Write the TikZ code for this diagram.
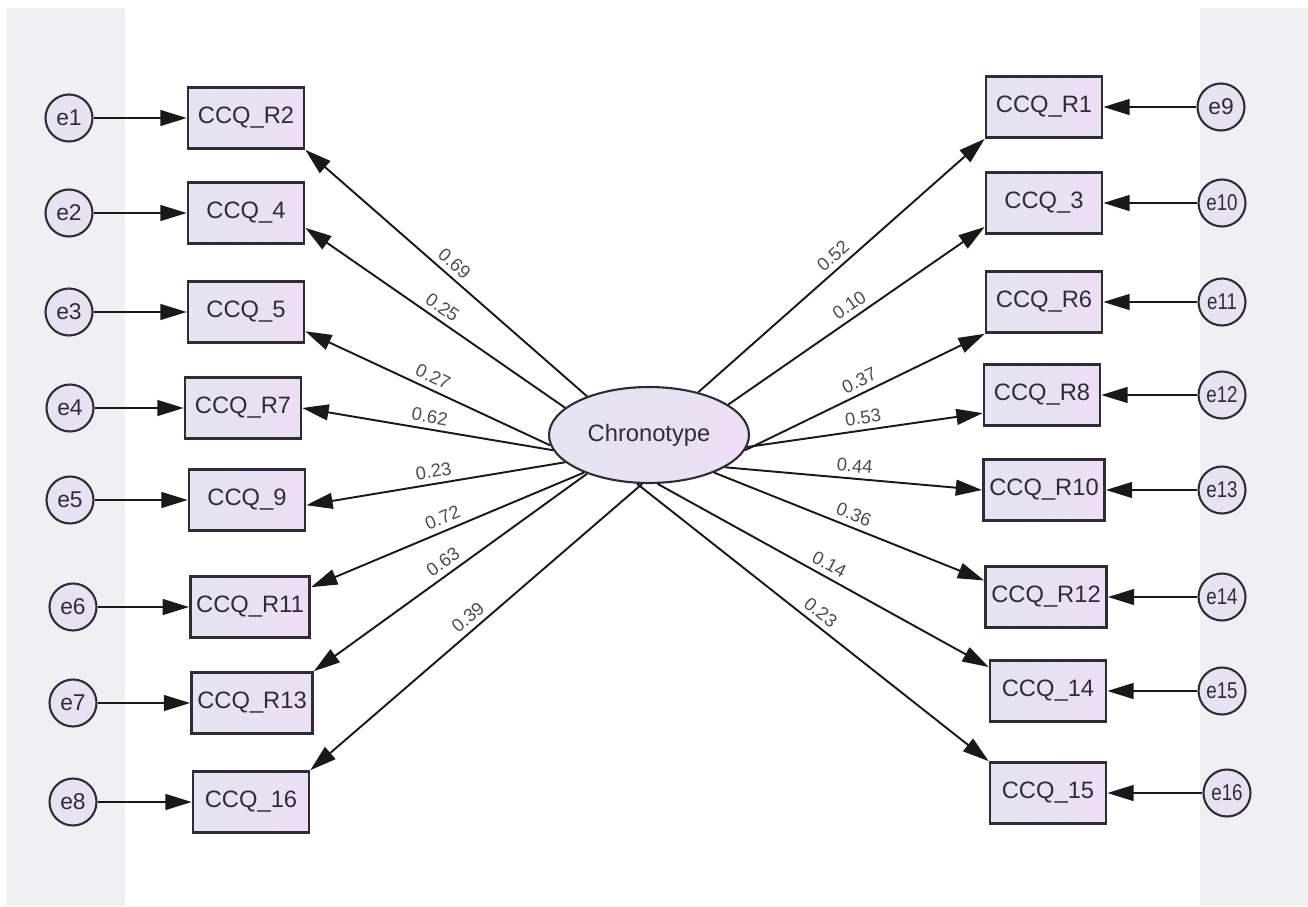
\documentclass[tikz,border=0pt]{standalone}
\usepackage{fontspec}
\setmainfont{Liberation Sans}
\usetikzlibrary{arrows.meta,shapes.geometric}
\definecolor{panel}{RGB}{240,239,241}
\definecolor{fillL}{RGB}{228,228,242}
\definecolor{fillR}{RGB}{238,222,245}
\definecolor{ink}{RGB}{45,45,55}
\newcommand{\wide}[1]{\scalebox{0.82}[1]{#1}}
\tikzset{
  obs/.style={draw=ink, line width=1.5pt, minimum width=2.32cm, minimum height=1.22cm,
    left color=fillL, right color=fillR, text=ink, font=\fontsize{13.5}{16}\selectfont},
  err/.style={circle, draw=ink, line width=1.2pt, minimum size=0.94cm, inner sep=0pt,
    left color=fillL, right color=fillR, text=ink, font=\fontsize{13}{15}\selectfont},
  lat/.style={ellipse, draw=ink, line width=1.2pt, minimum width=4cm, minimum height=1.92cm,
    inner sep=0pt, left color=fillL, right color=fillR, text=ink, font=\fontsize{13.5}{16}\selectfont},
  load/.style={-{Triangle[length=15pt,width=9pt]}, line width=1.1pt, draw=black!90},
  coef/.style={midway, sloped, above, inner sep=3pt, text=ink!85, font=\fontsize{10.5}{12}\selectfont}
}

\begin{document}
\begin{tikzpicture}[x=0.02cm,y=-0.02cm]
  \useasboundingbox (0,0) rectangle (1308,906);
  \fill[panel] (7,8) rectangle (125,906);
  \fill[panel] (1200,8) rectangle (1308,906);

  \node[lat] (chrono) at (649,435) {Chronotype};

  % left column
  \node[obs] (r2)  at (246,118) {CCQ\_R2};
  \node[obs] (q4)  at (246,213) {CCQ\_4};
  \node[obs] (q5)  at (246,312) {CCQ\_5};
  \node[obs] (r7)  at (243,408) {CCQ\_R7};
  \node[obs] (q9)  at (247,500) {CCQ\_9};
  \node[obs] (r11) at (250,607) {CCQ\_R11};
  \node[obs] (r13) at (252,703) {CCQ\_R13};
  \node[obs] (q16) at (251,802) {CCQ\_16};
  \node[err] (e1) at (69,118) {e1};
  \node[err] (e2) at (69,213) {e2};
  \node[err] (e3) at (69,312) {e3};
  \node[err] (e4) at (70,408) {e4};
  \node[err] (e5) at (70,500) {e5};
  \node[err] (e6) at (73,607) {e6};
  \node[err] (e7) at (73,703) {e7};
  \node[err] (e8) at (73,802) {e8};

  % right column
  \node[obs] (r1)  at (1044,107) {CCQ\_R1};
  \node[obs] (q3)  at (1044,203) {CCQ\_3};
  \node[obs] (r6)  at (1044,302) {CCQ\_R6};
  \node[obs] (r8)  at (1042,395) {CCQ\_R8};
  \node[obs] (r10) at (1044,490) {CCQ\_R10};
  \node[obs] (r12) at (1046,597) {CCQ\_R12};
  \node[obs] (q14) at (1048,691) {CCQ\_14};
  \node[obs] (q15) at (1048,793) {CCQ\_15};
  \node[err] (e9)  at (1221,107) {e9};
  \node[err] (e10) at (1222,203) {\wide{e10}};
  \node[err] (e11) at (1222,302) {\wide{e11}};
  \node[err] (e12) at (1222,395) {\wide{e12}};
  \node[err] (e13) at (1222,490) {\wide{e13}};
  \node[err] (e14) at (1222,597) {\wide{e14}};
  \node[err] (e15) at (1222,691) {\wide{e15}};
  \node[err] (e16) at (1227,793) {\wide{e16}};

  % loadings
  \draw[load] (chrono.148) -- (r2.south east) node[coef] {0.69};
  \draw[load] (chrono.162) -- (q4.-14) node[coef] {0.25};
  \draw[load] (chrono.186) -- (q5.-18) node[coef] {0.27};
  \draw[load] (chrono.189) -- (r7.east) node[coef] {0.62};
  \draw[load] (chrono.198) -- (q9.-5) node[coef] {0.23};
  \draw[load] (chrono.210) -- (r11.18) node[coef] {0.72};
  \draw[load] (chrono.212) -- (r13.north east) node[coef] {0.63};
  \draw[load] (chrono.262) -- (q16.north east) node[coef] {0.39};
  \draw[load] (chrono.41) -- (r1.south west) node[coef] {0.52};
  \draw[load] (chrono.21) -- (q3.202) node[coef] {0.10};
  \draw[load] (chrono.351) -- (r6.south west) node[coef] {0.37};
  \draw[load] (chrono.353) -- (r8.197) node[coef] {0.53};
  \draw[load] (chrono.337) -- (r10.west) node[coef] {0.44};
  \draw[load] (chrono.330) -- (r12.165) node[coef] {0.36};
  \draw[load] (chrono.280) -- (q14.158) node[coef] {0.14};
  \draw[load] (chrono.256) -- (q15.north west) node[coef] {0.23};

  % error terms
  \draw[load] (e1) -- (r2);
  \draw[load] (e2) -- (q4);
  \draw[load] (e3) -- (q5);
  \draw[load] (e4) -- (r7);
  \draw[load] (e5) -- (q9);
  \draw[load] (e6) -- (r11);
  \draw[load] (e7) -- (r13);
  \draw[load] (e8) -- (q16);
  \draw[load] (e9) -- (r1);
  \draw[load] (e10) -- (q3);
  \draw[load] (e11) -- (r6);
  \draw[load] (e12) -- (r8);
  \draw[load] (e13) -- (r10);
  \draw[load] (e14) -- (r12);
  \draw[load] (e15) -- (q14);
  \draw[load] (e16) -- (q15);
\end{tikzpicture}
\end{document}
